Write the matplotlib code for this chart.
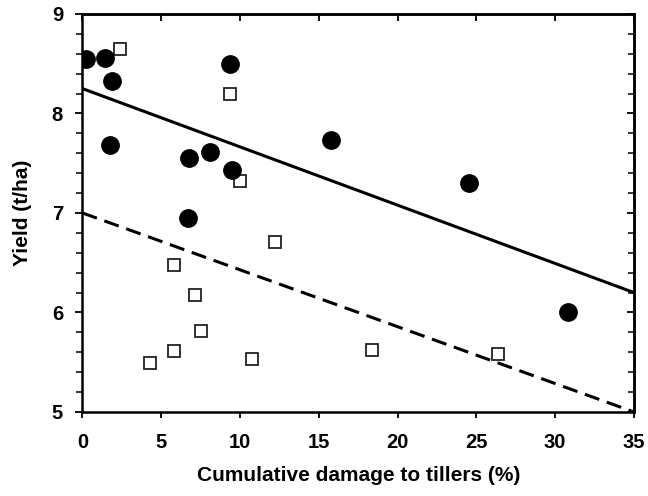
import numpy as np
import matplotlib
matplotlib.use('Agg')
import matplotlib.pyplot as plt
from matplotlib.ticker import MultipleLocator

plt.rcParams['font.family'] = ['Liberation Sans', 'DejaVu Sans']
plt.rcParams['font.weight'] = 'bold'

# Filled circles
circle_x = [0.2, 1.45, 1.85, 1.75, 9.35, 6.75, 8.1, 9.5, 15.8, 6.7, 24.5, 30.8]
circle_y = [8.55, 8.56, 8.33, 7.68, 8.50, 7.55, 7.61, 7.43, 7.73, 6.95, 7.30, 6.00]

# Open squares
square_x = [2.4, 9.35, 10.0, 12.2, 5.8, 7.15, 7.55, 5.8, 10.75, 4.3, 18.4, 26.4]
square_y = [8.65, 8.20, 7.32, 6.71, 6.48, 6.18, 5.81, 5.61, 5.53, 5.49, 5.62, 5.58]

# Regression lines (endpoints read at x=0 and x=35)
line_x = [0, 35]
solid_y = [8.25, 6.20]
dashed_y = [7.00, 5.00]

fig = plt.figure(figsize=(6.48, 4.96), dpi=100)
ax = fig.add_axes([0.1273, 0.1694, 0.851, 0.8024])

ax.plot(line_x, solid_y, color='black', lw=2.2, solid_capstyle='butt')
ax.plot(line_x, dashed_y, color='black', lw=2.2, linestyle=(0, (5, 2.6)))
ax.plot(square_x, square_y, 's', ms=8.5, mfc='white', mec='#222222', mew=1.3,
        zorder=3, linestyle='none')
ax.plot(circle_x, circle_y, 'o', ms=12.5, color='black', zorder=4,
        linestyle='none')

ax.set_xlim(0, 35)
ax.set_ylim(5, 9)
ax.xaxis.set_major_locator(MultipleLocator(5))
ax.yaxis.set_major_locator(MultipleLocator(1))
ax.yaxis.set_minor_locator(MultipleLocator(0.2))

for spine in ax.spines.values():
    spine.set_linewidth(1.8)

ax.tick_params(axis='x', which='major', direction='out', length=4, width=1.3,
               labelsize=14.5, pad=11)
ax.tick_params(axis='y', which='major', direction='out', length=5, width=1.3,
               labelsize=14.5, pad=9)
ax.tick_params(axis='y', which='minor', direction='out', length=4, width=1.1)

# inward ticks on the top and right frame
top = ax.secondary_xaxis('top')
top.xaxis.set_major_locator(MultipleLocator(5))
top.tick_params(direction='in', length=5, width=1.3, labeltop=False)
top.spines['top'].set_linewidth(1.8)
right = ax.secondary_yaxis('right')
right.yaxis.set_major_locator(MultipleLocator(1))
right.yaxis.set_minor_locator(MultipleLocator(0.2))
right.tick_params(which='major', direction='in', length=5, width=1.3, labelright=False)
right.tick_params(which='minor', direction='in', length=4, width=1.1)
right.spines['right'].set_linewidth(1.8)

ax.set_xlabel('Cumulative damage to tillers (%)', fontsize=15, fontweight='bold',
              labelpad=10)
ax.set_ylabel('Yield (t/ha)', fontsize=15, fontweight='bold', labelpad=14)

fig.savefig('out.png', dpi=100)
